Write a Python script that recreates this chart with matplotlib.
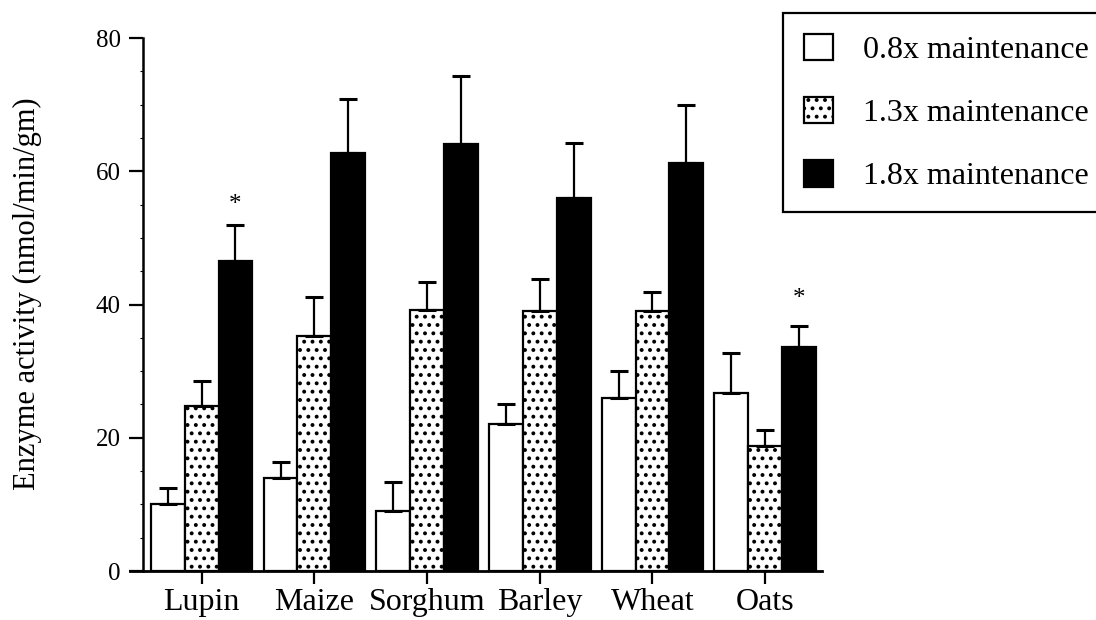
import matplotlib
matplotlib.use("Agg")
import matplotlib.pyplot as plt
from matplotlib.patches import Patch
from matplotlib.ticker import MultipleLocator
import numpy as np

plt.rcParams['font.family'] = ['Liberation Serif', 'DejaVu Serif']
plt.rcParams['hatch.linewidth'] = 1.6
plt.rcParams['hatch.color'] = 'black'

# Cereal / grain sources
grains = ['Lupin', 'Maize', 'Sorghum', 'Barley', 'Wheat', 'Oats']
levels = ['0.8x maintenance', '1.3x maintenance', '1.8x maintenance']

# Mean enzyme activity (nmol/min/gm) and standard error for each intake level
mean_08 = [10.0, 14.0, 9.0, 22.0, 26.0, 26.7]
err_08 = [2.4, 2.3, 4.3, 3.0, 4.0, 6.0]
mean_13 = [24.8, 35.2, 39.1, 39.0, 39.0, 18.8]
err_13 = [3.7, 6.0, 4.3, 4.9, 2.9, 2.3]
mean_18 = [46.5, 62.8, 64.1, 56.0, 61.3, 33.6]
err_18 = [5.4, 8.0, 10.2, 8.3, 8.6, 3.2]

# significance markers: (grain index, level index, gap above error bar in points)
starred = [(0, 2, 6.5), (5, 2, 11.5)]

fig = plt.figure(figsize=(10.96, 6.2), dpi=100)
ax = fig.add_axes([130 / 1096, 49 / 620, 692 / 1096, 533 / 620])

x = np.arange(len(grains))
w = 0.30
means = [mean_08, mean_13, mean_18]
errs = [err_08, err_13, err_18]
styles = [dict(color='white', hatch=None),
          dict(color='white', hatch='..'),
          dict(color='black', hatch=None)]

for k in range(3):
    pos = x + (k - 1) * w
    ax.bar(pos, means[k], width=w, facecolor=styles[k]['color'],
           edgecolor='black', linewidth=1.6, hatch=styles[k]['hatch'], zorder=2)
    ax.errorbar(pos, means[k], yerr=[np.zeros(len(grains)), errs[k]],
                fmt='none', ecolor='black', elinewidth=1.6, capsize=6.8,
                capthick=2.2, zorder=3)

for i, k, gap in starred:
    top = means[k][i] + errs[k][i]
    ax.annotate('*', xy=(x[i] + (k - 1) * w, top), xytext=(0, gap),
                textcoords='offset points', ha='center', va='bottom',
                fontsize=18)

ax.set_xlim(-0.636, 5.504)
ax.set_ylim(0, 80)
ax.set_yticks([0, 20, 40, 60, 80])
ax.yaxis.set_minor_locator(MultipleLocator(5))
ax.set_xticks(x)
ax.set_xticklabels(grains, fontsize=23)
ax.tick_params(axis='y', which='major', length=10, width=1.6, labelsize=18, pad=6)
ax.tick_params(axis='y', which='minor', length=2.5, width=0.8)
ax.tick_params(axis='x', length=9, width=1.6, pad=3)

ax.spines['top'].set_visible(False)
ax.spines['right'].set_visible(False)
ax.spines['left'].set_position(('data', -0.521))
ax.spines['left'].set_linewidth(1.8)
ax.spines['bottom'].set_linewidth(2.0)

fig.text(27 / 1096, 1 - 294 / 620, 'Enzyme activity (nmol/min/gm)',
         rotation=90, ha='center', va='center', fontsize=22)

# legend box runs past the right edge of the figure
handles = [Patch(facecolor=styles[k]['color'], edgecolor='black',
                 linewidth=1.6, hatch=styles[k]['hatch'], label=levels[k])
           for k in range(3)]
leg = fig.legend(handles=handles, loc='upper left', mode='expand',
                 bbox_to_anchor=(783 / 1096, 1 - 13 / 620, 330 / 1096, 0),
                 bbox_transform=fig.transFigure, fontsize=23,
                 frameon=True, fancybox=False, framealpha=1,
                 handlelength=0.9, handleheight=0.9, handletextpad=0.95,
                 labelspacing=1.0, borderpad=0.65, borderaxespad=0)
leg.get_frame().set_edgecolor('black')
leg.get_frame().set_linewidth(1.6)

fig.savefig('out.png', dpi=100)
